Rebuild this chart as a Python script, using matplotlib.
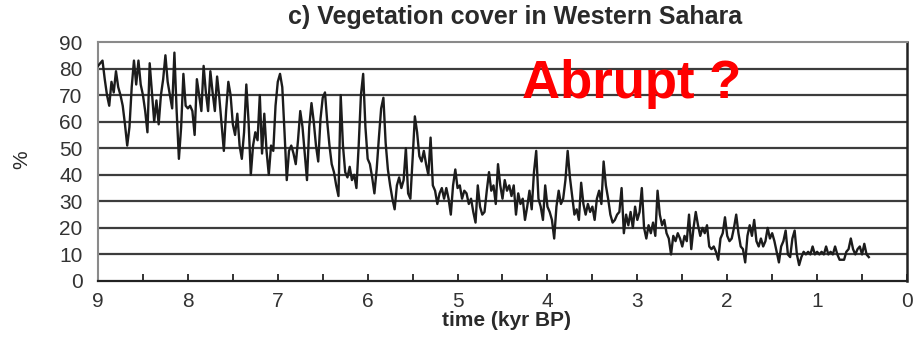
import numpy as np
import matplotlib
matplotlib.use('Agg')
import matplotlib.pyplot as plt
from matplotlib.ticker import MultipleLocator

plt.rcParams['font.family'] = ['Liberation Sans', 'DejaVu Sans']

# vegetation cover (%) sampled every 25 yr, from 9.0 kyr BP towards the present
cobertura = [
    81, 82, 83, 76, 70, 66, 75, 71, 79, 73, 70, 66, 59, 51, 58, 73, 83, 74, 83, 74,
    70, 64, 56, 82, 71, 60, 68, 59, 70, 76, 85, 75, 70, 65, 86, 64, 46, 58, 78, 66,
    65, 66, 64, 55, 76, 70, 64, 81, 71, 64, 79, 71, 64, 77, 69, 59, 49, 64, 75, 70,
    59, 55, 63, 51, 46, 56, 74, 60, 40, 51, 56, 53, 70, 48, 63, 49, 40, 51, 49, 66,
    75, 78, 73, 56, 38, 49, 51, 48, 44, 53, 64, 58, 48, 38, 58, 67, 60, 51, 45, 61,
    69, 71, 60, 51, 44, 41, 36, 32, 70, 51, 41, 39, 43, 38, 40, 35, 51, 70, 78, 58,
    46, 44, 39, 33, 42, 54, 65, 69, 52, 42, 36, 31, 27, 36, 39, 35, 38, 50, 33, 31,
    46, 62, 56, 47, 45, 49, 44, 40, 54, 36, 34, 29, 33, 35, 31, 35, 31, 25, 36, 42,
    35, 36, 31, 34, 33, 29, 31, 26, 22, 36, 28, 25, 26, 34, 41, 34, 36, 29, 44, 36,
    31, 38, 34, 36, 32, 36, 25, 33, 29, 31, 23, 28, 34, 27, 41, 49, 31, 28, 23, 36,
    28, 26, 23, 16, 28, 34, 29, 31, 38, 49, 39, 32, 25, 27, 23, 37, 29, 25, 29, 26,
    28, 23, 31, 34, 29, 45, 36, 31, 25, 22, 23, 25, 26, 35, 18, 25, 21, 26, 20, 28,
    23, 26, 35, 20, 16, 21, 18, 22, 17, 34, 25, 21, 23, 18, 16, 10, 17, 15, 18, 16,
    13, 17, 15, 25, 12, 20, 26, 21, 17, 20, 18, 21, 13, 12, 13, 11, 8, 16, 18, 24,
    17, 15, 16, 20, 25, 18, 13, 12, 7, 17, 21, 17, 23, 15, 13, 16, 13, 15, 20, 16,
    18, 15, 11, 7, 13, 15, 19, 10, 9, 16, 19, 10, 6, 9, 11, 10, 11, 10, 13, 10,
    11, 10, 11, 10, 13, 10, 11, 10, 13, 10, 8, 8, 8, 11, 12, 16, 12, 10, 12, 13,
    10, 14, 10, 9,
]
idade_inicial = 9.0
passo_kyr = 0.025
idade = np.round(idade_inicial - passo_kyr * np.arange(len(cobertura)), 3)

ticks_x = [9, 8, 7, 6, 5, 4, 3, 2, 1, 0]
ticks_y = [0, 10, 20, 30, 40, 50, 60, 70, 80, 90]

fig = plt.figure(figsize=(9.15, 3.39), dpi=100)
ax = fig.add_axes([98 / 915, 1 - 281 / 339, 809 / 915, 239 / 339])

for v in ticks_y[1:-1]:
    ax.axhline(v, color='#3c3c3c', lw=1.6, zorder=1)

ax.plot(idade, cobertura, color='#1c1c1c', lw=1.7, zorder=3)

ax.set_xlim(9, 0)
ax.set_ylim(0, 90)
ax.set_xticks(ticks_x)
ax.xaxis.set_minor_locator(MultipleLocator(0.5))
ax.set_yticks(ticks_y)

ax.tick_params(axis='x', which='both', direction='in', length=5, width=1.3,
               colors='#222222', labelsize=15, labelcolor='#333333', pad=8)
ax.tick_params(axis='y', length=0, labelsize=15, labelcolor='#333333', pad=11)

ax.spines['top'].set_color('#8a8a8a')
ax.spines['top'].set_linewidth(1.5)
ax.spines['left'].set_color('#8a8a8a')
ax.spines['left'].set_linewidth(1.5)
ax.spines['right'].set_color('#222222')
ax.spines['right'].set_linewidth(1.8)
ax.spines['bottom'].set_color('#222222')
ax.spines['bottom'].set_linewidth(1.6)

fig.text(515 / 915, 1 - 17 / 339, 'c) Vegetation cover in Western Sahara',
         ha='center', va='center', fontsize=18, fontweight='bold', color='#2a2a2a')
fig.text(506 / 915, 1 - 321 / 339, 'time (kyr BP)',
         ha='center', va='center', fontsize=15, fontweight='bold', color='#2a2a2a')
fig.text(22 / 915, 1 - 160 / 339, '%', rotation=90,
         ha='center', va='center', fontsize=15, color='#2a2a2a')

ax.text(4.284, 69, 'Abrupt ?', ha='left', va='baseline',
        fontsize=38, fontweight='bold', color='#ff0000', zorder=5)

fig.savefig('out.png', dpi=100)
